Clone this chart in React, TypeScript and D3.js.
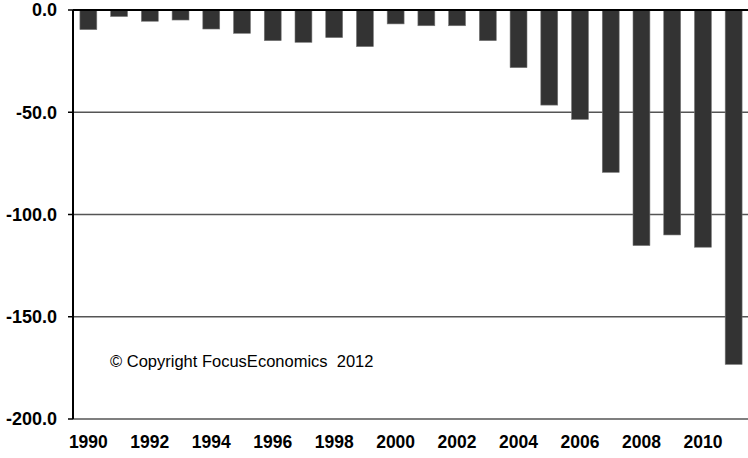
import React from 'react';
import * as d3 from 'd3';

const years: number[] = d3.range(1990, 2012);
const balance: number[] = [
    -9.6, -3.2, -5.5, -4.9, -9.3, -11.4, -15.0, -15.8, -13.5, -17.9, -6.8,
    -7.7, -7.7, -15.0, -28.2, -46.5, -53.5, -79.4, -115.2, -110.0, -116.0, -173.3,
];
const yTicks: number[] = [0, -50, -100, -150, -200];
const xLabels: number[] = years.filter(y => y % 2 === 0);
const note = '\u00A9 Copyright FocusEconomics\u00A0 2012';

const width = 748;
const height = 458;
const margin = { top: 10, right: -1, bottom: 39, left: 73 };

export default function App() {
    const x = d3.scaleBand<number>()
        .domain(years)
        .range([margin.left, width - margin.right])
        .paddingInner(0.45)
        .paddingOuter(0.225);
    const y = d3.scaleLinear([0, -200], [margin.top, height - margin.bottom]);
    const font = 'Arial, "Liberation Sans", Helvetica, sans-serif';

    return (
        <svg width={width} height={height} viewBox={`0 0 ${width} ${height}`}
            style={{ position: 'absolute', left: 0, top: 0, background: '#fff' }}>
            {yTicks.slice(1).map(t => (
                <line key={t} x1={margin.left} x2={width} y1={y(t)} y2={y(t)}
                    stroke="#555" strokeWidth={1.5} />
            ))}
            {years.map((yr, i) => (
                <rect key={yr} x={x(yr)} y={y(0)} width={x.bandwidth()}
                    height={y(balance[i]) - y(0)} fill="#333" stroke="#777" strokeWidth={0.6} />
            ))}
            <line x1={margin.left} x2={width} y1={y(0)} y2={y(0)} stroke="#000" strokeWidth={2} />
            <line x1={margin.left} x2={margin.left} y1={y(0)} y2={y(-200)} stroke="#000" strokeWidth={2} />
            {yTicks.map(t => (
                <g key={t}>
                    <line x1={margin.left - 5} x2={margin.left} y1={y(t)} y2={y(t)} stroke="#000" strokeWidth={1.5} />
                    <text x={57} y={y(t)} dy="0.36em" textAnchor="end" fontFamily={font}
                        fontWeight="bold" fontSize={18} fill="#000">{t.toFixed(1)}</text>
                </g>
            ))}
            {xLabels.map(yr => (
                <text key={yr} x={x(yr)! + x.bandwidth() / 2} y={448} textAnchor="middle"
                    fontFamily={font} fontWeight="bold" fontSize={17.5} fill="#000">{yr}</text>
            ))}
            <text x={110} y={367} fontFamily={font} fontSize={16.5} fill="#000">{note}</text>
        </svg>
    );
}
